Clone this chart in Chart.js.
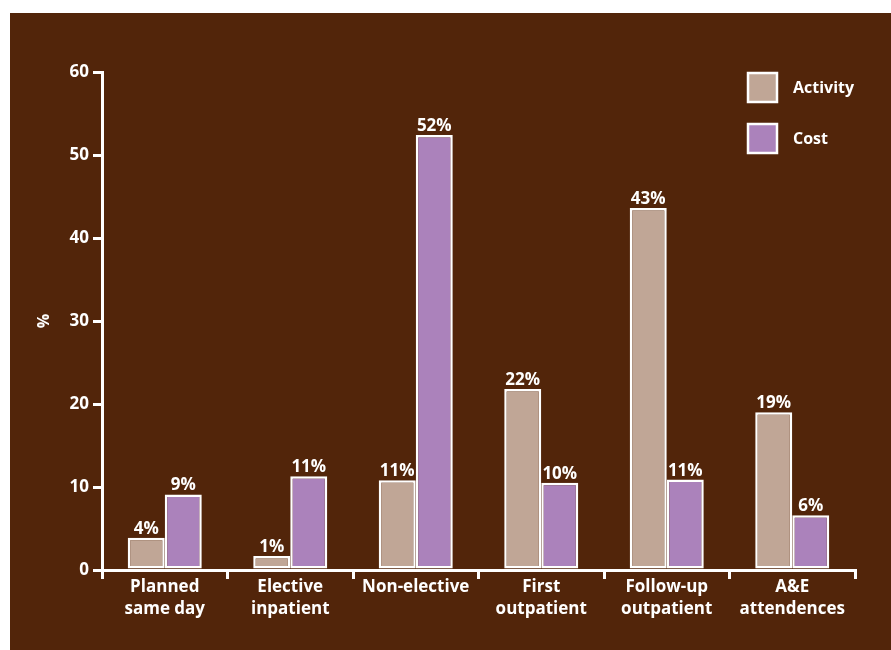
<!DOCTYPE html>
<html>
<head>
<meta charset="utf-8">
<script src="https://cdn.jsdelivr.net/npm/chart.js@4"></script>
<style>
  body { margin: 0; background: #ffffff; }
  .wrap { position: absolute; left: 10px; top: 13px; width: 881px; height: 637px; background: #52250a; }
</style>
</head>
<body>
<div class="wrap"><canvas id="graph"></canvas></div>
<script>
// categories and values
const categories = [["Planned", "same day"], ["Elective", "inpatient"], "Non-elective", ["First", "outpatient"], ["Follow-up", "outpatient"], ["A&E", "attendences"]]
const activity = [3.9, 1.7, 10.8, 21.8, 43.6, 19.0]
const cost = [9.1, 11.3, 52.4, 10.5, 10.9, 6.6]
const activityLabels = ["4%", "1%", "11%", "22%", "43%", "19%"]
const costLabels = ["9%", "11%", "52%", "10%", "11%", "6%"]
const yTicks = [0, 10, 20, 30, 40, 50, 60]

const FONT = "'Open Sans'"
const WHITE = "#ffffff"

/* labels above each bar */
const barLabels = {
    id: "barLabels",
    afterDatasetsDraw(chart) {
        const ctx = chart.ctx
        const texts = [activityLabels, costLabels]
        ctx.save()
        ctx.fillStyle = WHITE
        ctx.font = "bold 17px " + FONT
        ctx.textAlign = "center"
        ctx.textBaseline = "alphabetic"
        chart.data.datasets.forEach((ds, i) => {
            chart.getDatasetMeta(i).data.forEach((bar, j) => {
                ctx.fillText(texts[i][j], bar.x, bar.y - 4)
            })
        })
        ctx.restore()
    }
}

/* vertical legend in the top right corner */
const sideLegend = {
    id: "sideLegend",
    afterDraw(chart) {
        const ctx = chart.ctx
        ctx.save()
        ctx.font = "bold 16px " + FONT
        ctx.textBaseline = "middle"
        chart.data.datasets.forEach((ds, i) => {
            const x = 738
            const y = 60 + i * 51
            ctx.fillStyle = ds.backgroundColor
            ctx.fillRect(x, y, 29, 29)
            ctx.strokeStyle = WHITE
            ctx.lineWidth = 2.5
            ctx.strokeRect(x, y, 29, 29)
            ctx.fillStyle = WHITE
            ctx.fillText(ds.label, x + 45, y + 15)
        })
        ctx.restore()
    }
}

const data = {
    labels: categories,
    datasets: [
        { label: "Activity", data: activity, backgroundColor: "#c0a696", borderColor: WHITE, borderWidth: 2.5, borderSkipped: false },
        { label: "Cost", data: cost, backgroundColor: "#ab82bb", borderColor: WHITE, borderWidth: 2.5, borderSkipped: false }
    ]
}

const config = {
    type: "bar",
    data: data,
    options: {
        responsive: false,
        animation: false,
        categoryPercentage: 0.59,
        barPercentage: 1.0,
        layout: { padding: { left: 0, right: 36, top: 59, bottom: 0 } },
        plugins: {
            legend: { display: false },
            tooltip: { enabled: false }
        },
        scales: {
            x: {
                grid: { display: true, offset: true, drawOnChartArea: false, drawTicks: true, tickLength: 9, color: WHITE, lineWidth: 3 },
                border: { color: WHITE, width: 3 },
                ticks: { color: WHITE, font: { family: FONT, size: 17, weight: "bold", lineHeight: 1.25 }, padding: -2, maxRotation: 0, autoSkip: false },
                afterFit: (scale) => { scale.height = 80 }
            },
            y: {
                min: 0,
                max: 60,
                afterBuildTicks: (scale) => { scale.ticks = yTicks.map(v => ({ value: v })) },
                grid: { display: true, drawOnChartArea: false, drawTicks: true, tickLength: 9, color: WHITE, lineWidth: 3 },
                border: { color: WHITE, width: 3 },
                ticks: { color: WHITE, font: { family: FONT, size: 17, weight: "bold" }, padding: 4 },
                title: { display: true, text: "%", color: WHITE, font: { family: FONT, size: 16, weight: "bold" }, padding: { top: 25, bottom: 0 } },
                afterFit: (scale) => { scale.width = 92 }
            }
        }
    },
    plugins: [barLabels, sideLegend]
}

const canvas = document.querySelector("#graph")
canvas.width = 881
canvas.height = 637
new Chart(canvas, config)
</script>
</body>
</html>
